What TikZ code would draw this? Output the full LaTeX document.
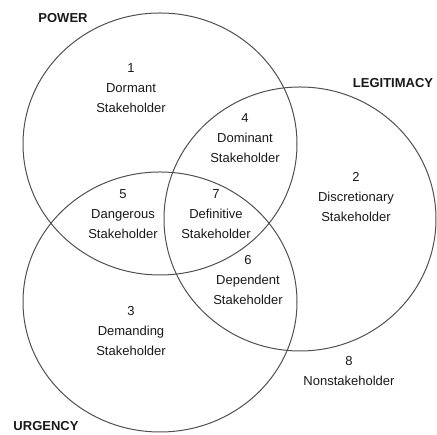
\documentclass[tikz,border=0pt]{standalone}
\usepackage{fontspec}
\setmainfont{Liberation Sans}
\definecolor{ringgray}{RGB}{80,80,80}
\definecolor{txt}{RGB}{25,25,25}
\begin{document}
\begin{tikzpicture}[x=1pt,y=1pt,
  ring/.style={draw=ringgray,line width=1pt},
  lbl/.style={align=center,text=txt,font=\fontsize{13}{20}\selectfont,inner sep=0pt},
  head/.style={text=txt,font=\fontsize{13}{14}\selectfont\bfseries,inner sep=0pt}]
\useasboundingbox (0,0) rectangle (437,435);
\fill[white] (0,0) rectangle (437,435);
% circles
\draw[ring] (160,291) ellipse [x radius=137, y radius=131];
\draw[ring] (300,216) ellipse [x radius=136, y radius=132];
\draw[ring] (160,133) ellipse [x radius=137, y radius=130];
% headings
\node[head] (power) at (63,417) {POWER};
\node[head] (legit) at (393,352) {LEGITIMACY};
\node[head] (urg) at (46,9) {URGENCY};
% labels
\node[lbl] (n1) at (131,347) {1\\Dormant\\Stakeholder};
\node[lbl] (n4) at (245,297) {4\\Dominant\\Stakeholder};
\node[lbl] (n2) at (356,238) {2\\Discretionary\\Stakeholder};
\node[lbl] (n5) at (123,221) {5\\Dangerous\\Stakeholder};
\node[lbl] (n7) at (216,221) {7\\Definitive\\Stakeholder};
\node[lbl] (n6) at (248,155) {6\\Dependent\\Stakeholder};
\node[lbl] (n3) at (131,104) {3\\Demanding\\Stakeholder};
\node[lbl] (n8) at (349,64) {8\\Nonstakeholder};
\end{tikzpicture}
\end{document}
